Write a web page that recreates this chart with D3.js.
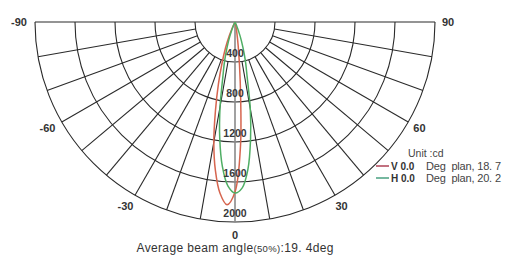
<!DOCTYPE html>
<html><head><meta charset="utf-8">
<script src="https://cdn.jsdelivr.net/npm/d3@7"></script>
<style>
html,body{margin:0;padding:0;background:#fff;}
svg{display:block;font-family:"Liberation Sans",Arial,sans-serif;}
</style></head>
<body>
<svg id="c" width="510" height="257"></svg>
<script>
// ---- data ----
const ringTicks = [400, 800, 1200, 1600, 2000];
const angleGrid = [-80,-70,-60,-50,-40,-30,-20,-10,10,20,30,40,50,60,70,80];
const angleLabels = [-90, -60, -30, 0, 30, 60, 90];
const anglesV = [-30,-25,-22.5,-20,-17.5,-15,-12.5,-10,-7.5,-5,-2.5,0,2.5,5,7.5,10,12.5,15,20];
const valuesV = [0,60,150,280,430,640,900,1220,1500,1720,1830,1700,1250,600,250,100,40,10,0];
const anglesH = [-30,-25,-20,-17.5,-15,-12.5,-10,-7.5,-5,-2.5,0,2.5,5,7.5,10,12.5,15,17.5,20,25,30];
const valuesH = [0,30,150,260,400,560,860,1170,1450,1640,1710,1660,1480,1190,880,560,400,260,150,30,0];
const legendItems = [
  {key:"V 0.0", text:"Deg  plan, 18. 7", color:"#d6654f", lcolor:"#a8344a"},
  {key:"H 0.0", text:"Deg  plan, 20. 2", color:"#4fae64", lcolor:"#3c9a78"}
];
const unitLabel = "Unit :cd";
const caption = ["Average beam angle", "(50%)", ":19. 4deg"];

// ---- layout ----
const svg = d3.select("#c");
const cx = 235, cy = 22;
const r = d3.scaleLinear().domain([0, 2000]).range([0, 200]);
const rad = d => d * Math.PI / 180;
const px = (deg, R) => cx + R * Math.sin(rad(deg));
const py = (deg, R) => cy + R * Math.cos(rad(deg));

const grid = svg.append("g").attr("fill", "none").attr("stroke", "#2a2a2a").attr("stroke-width", 1.1);
// rings
ringTicks.forEach(v => {
  const p = d3.path();
  p.moveTo(cx - r(v), cy);
  p.arc(cx, cy, r(v), Math.PI, 0, true);
  grid.append("path").attr("d", p.toString());
});
// top line (-90..90)
grid.append("line").attr("x1", px(-90, r(2000))).attr("y1", cy).attr("x2", px(90, r(2000))).attr("y2", cy);
// radial lines
angleGrid.forEach(a => {
  grid.append("line")
    .attr("x1", px(a, r(ringTicks[0]))).attr("y1", py(a, r(ringTicks[0])))
    .attr("x2", px(a, r(2000))).attr("y2", py(a, r(2000)));
});
// 0 line
svg.append("line").attr("x1", cx).attr("y1", cy).attr("x2", px(0, r(2000))).attr("y2", py(0, r(2000)))
  .attr("stroke", "#8a8a8a").attr("stroke-width", 1.6);

// curves
const lr = d3.lineRadial().curve(d3.curveCatmullRom.alpha(0.5))
  .angle(d => rad(180 - d[0])).radius(d => r(d[1]));
const gC = svg.append("g").attr("transform", `translate(${cx},${cy})`).attr("fill", "none").attr("stroke-width", 1.5);
gC.append("path").attr("d", lr(anglesV.map((a, i) => [a, valuesV[i]]))).attr("stroke", legendItems[0].color);
gC.append("path").attr("d", lr(anglesH.map((a, i) => [a, valuesH[i]]))).attr("stroke", legendItems[1].color);

// ring labels
svg.append("g").selectAll("text").data(ringTicks).join("text")
  .attr("x", cx).attr("y", d => cy + r(d) - 5)
  .attr("text-anchor", "middle").attr("font-size", 10.5).attr("font-weight", "bold").attr("fill", "#3a3a3a")
  .text(d => d);

// angle labels
svg.append("g").selectAll("text").data(angleLabels).join("text")
  .attr("x", d => px(d, 213) - (d < 0 ? 3 : 0)).attr("y", d => py(d, 213))
  .attr("dy", "0.35em")
  .attr("text-anchor", "middle").attr("font-size", 11).attr("font-weight", "bold").attr("fill", "#333")
  .text(d => d);

// legend
svg.append("text").attr("x", 408).attr("y", 157).attr("font-size", 10.5).attr("fill", "#444").text(unitLabel);
const lg = svg.append("g").selectAll("g").data(legendItems).join("g")
  .attr("transform", (d, i) => `translate(0,${166 + i * 12})`);
lg.append("line").attr("x1", 376).attr("x2", 389).attr("y1", 0).attr("y2", 0)
  .attr("stroke", d => d.lcolor).attr("stroke-width", 1.4);
lg.append("text").attr("x", 391).attr("y", 4).attr("font-size", 10).attr("font-weight", "bold").attr("fill", "#333")
  .attr("xml:space", "preserve").text(d => d.key);
lg.append("text").attr("x", 426).attr("y", 4).attr("font-size", 11).attr("fill", "#444")
  .attr("xml:space", "preserve").attr("textLength", 75).attr("lengthAdjust", "spacing").text(d => d.text);

// caption
const cap = svg.append("text").attr("x", 235).attr("y", 252).attr("text-anchor", "middle")
  .attr("font-size", 12).attr("fill", "#333").attr("textLength", 197).attr("lengthAdjust", "spacing");
cap.append("tspan").text(caption[0]);
cap.append("tspan").attr("font-size", 9.5).text(caption[1]);
cap.append("tspan").text(caption[2]);
</script>
</body></html>
